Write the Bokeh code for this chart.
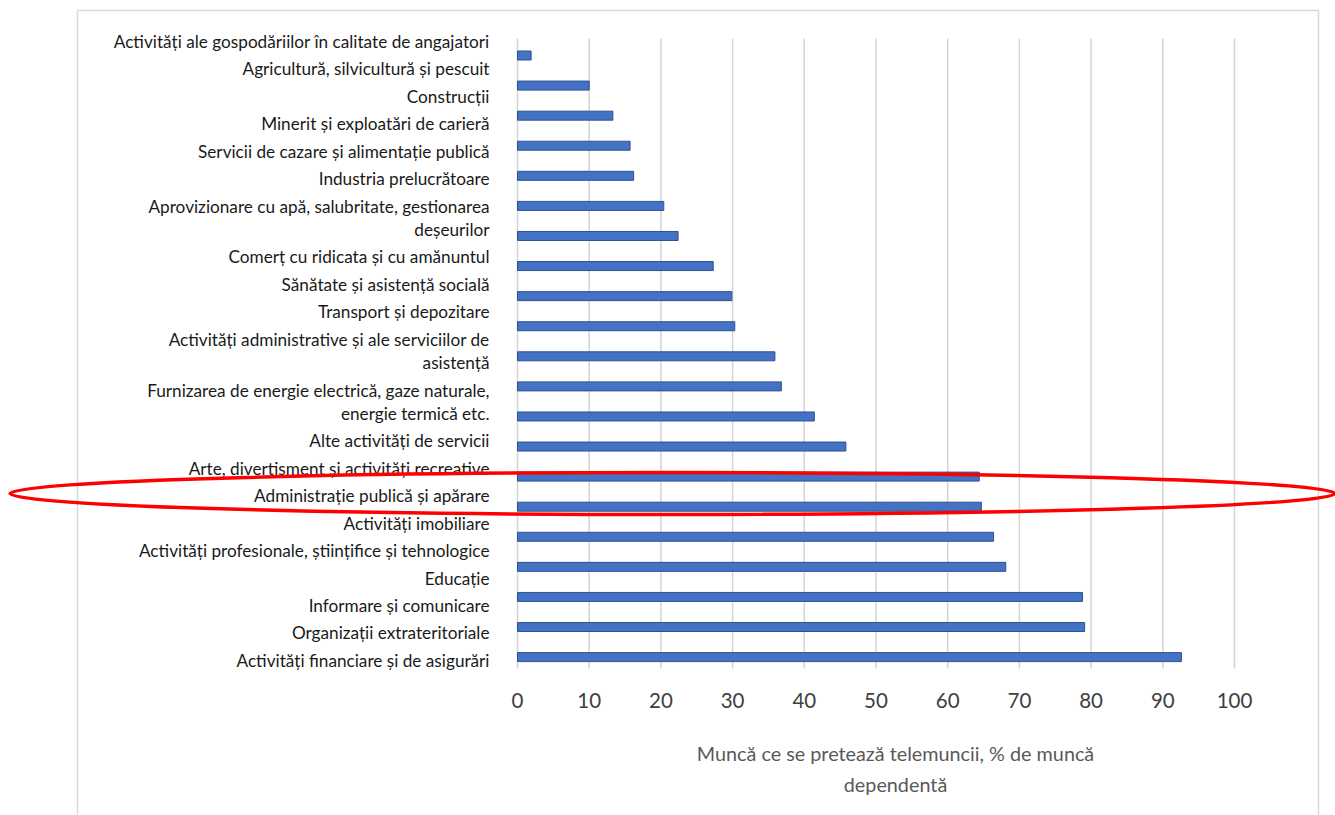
from bokeh.plotting import figure
from bokeh.models import Range1d
from bokeh.core.properties import value
from bokeh.embed import file_html
from bokeh.resources import INLINE

categories = [
    "Activități ale gospodăriilor în calitate de angajatori",
    "Agricultură, silvicultură și pescuit",
    "Construcții",
    "Minerit și exploatări de carieră",
    "Servicii de cazare și alimentație publică",
    "Industria prelucrătoare",
    "Aprovizionare cu apă, salubritate, gestionarea\ndeșeurilor",
    "Comerț cu ridicata și cu amănuntul",
    "Sănătate și asistență socială",
    "Transport și depozitare",
    "Activități administrative și ale serviciilor de\nasistență",
    "Furnizarea de energie electrică, gaze naturale,\nenergie termică etc.",
    "Alte activități de servicii",
    "Arte, divertisment și activități recreative",
    "Administrație publică și apărare",
    "Activități imobiliare",
    "Activități profesionale, științifice și tehnologice",
    "Educație",
    "Informare și comunicare",
    "Organizații extrateritoriale",
    "Activități financiare și de asigurări",
]
values = [1.9, 10.0, 13.3, 15.7, 16.2, 20.4, 22.4, 27.3, 29.9, 30.3, 35.9,
          36.8, 41.4, 45.8, 64.4, 64.7, 66.4, 68.1, 78.8, 79.1, 92.6]
x_ticks = [0, 10, 20, 30, 40, 50, 60, 70, 80, 90, 100]
x_title = ["Muncă ce se pretează telemuncii, % de muncă", "dependentă"]

W, H = 1335, 815
X0, PXU = 517.0, 7.17          # pixel of value 0, pixels per unit
Y0, STEP = 55.0, 30.08         # pixel of first bar, pixels per bar

def py(px):
    return (px - Y0) / STEP

def pxx(px):
    return (px - X0) / PXU

p = figure(width=W, height=H, output_backend="svg", toolbar_location=None,
           x_range=Range1d(pxx(0), pxx(W)), y_range=Range1d(py(H), py(0)),
           x_axis_location=None, y_axis_location=None, min_border=0,
           border_fill_color="white", background_fill_color="white")
p.outline_line_color = None
p.grid.visible = False

# outer frame of the chart
p.line([pxx(77), pxx(77), pxx(1318), pxx(1318)], [py(820), py(10), py(10), py(820)],
       line_color="#d9d9d9", line_width=1.5)

# gridlines
p.segment(x0=x_ticks, x1=x_ticks, y0=[py(38)] * len(x_ticks), y1=[py(668)] * len(x_ticks),
          line_color="#d4d4d4", line_width=1.5)

# bars
idx = list(range(len(values)))
p.hbar(y=idx, left=0, right=values, height=9 / STEP,
       fill_color="#4472C4", line_color="#2F528F", line_width=1)

# category labels (positioned independently, as in the original)
lx, ly, lt = [], [], []
cur = 41.0
for lab in categories:
    lines = lab.split("\n")
    for j, ln in enumerate(lines):
        lx.append(pxx(489))
        ly.append(py(cur))
        lt.append(ln)
        if j < len(lines) - 1:
            cur += 23.3
    cur += 27.45
p.text(x=lx, y=ly, text=lt, text_align="right", text_baseline="middle",
       text_font=value("Lato"), text_font_size="17.2px", text_color="#1a1a1a")

# tick labels
p.text(x=x_ticks, y=[py(700)] * len(x_ticks), text=[str(t) for t in x_ticks],
       text_align="center", text_baseline="middle", text_font=value("Lato"),
       text_font_size="20.5px", text_color="#404040")

# axis title
p.text(x=[pxx(895)] * 2, y=[py(752), py(783)], text=x_title,
       text_align="center", text_baseline="middle", text_font=value("Lato"),
       text_font_size="19.8px", text_color="#595959")

# red highlight ellipse
p.ellipse(x=[pxx(672)], y=[py(493)], width=[1325 / PXU], height=[42 / STEP],
          fill_color=None, line_color="#ff0000", line_width=3.5)

open("out.html", "w").write(file_html(p, INLINE))
